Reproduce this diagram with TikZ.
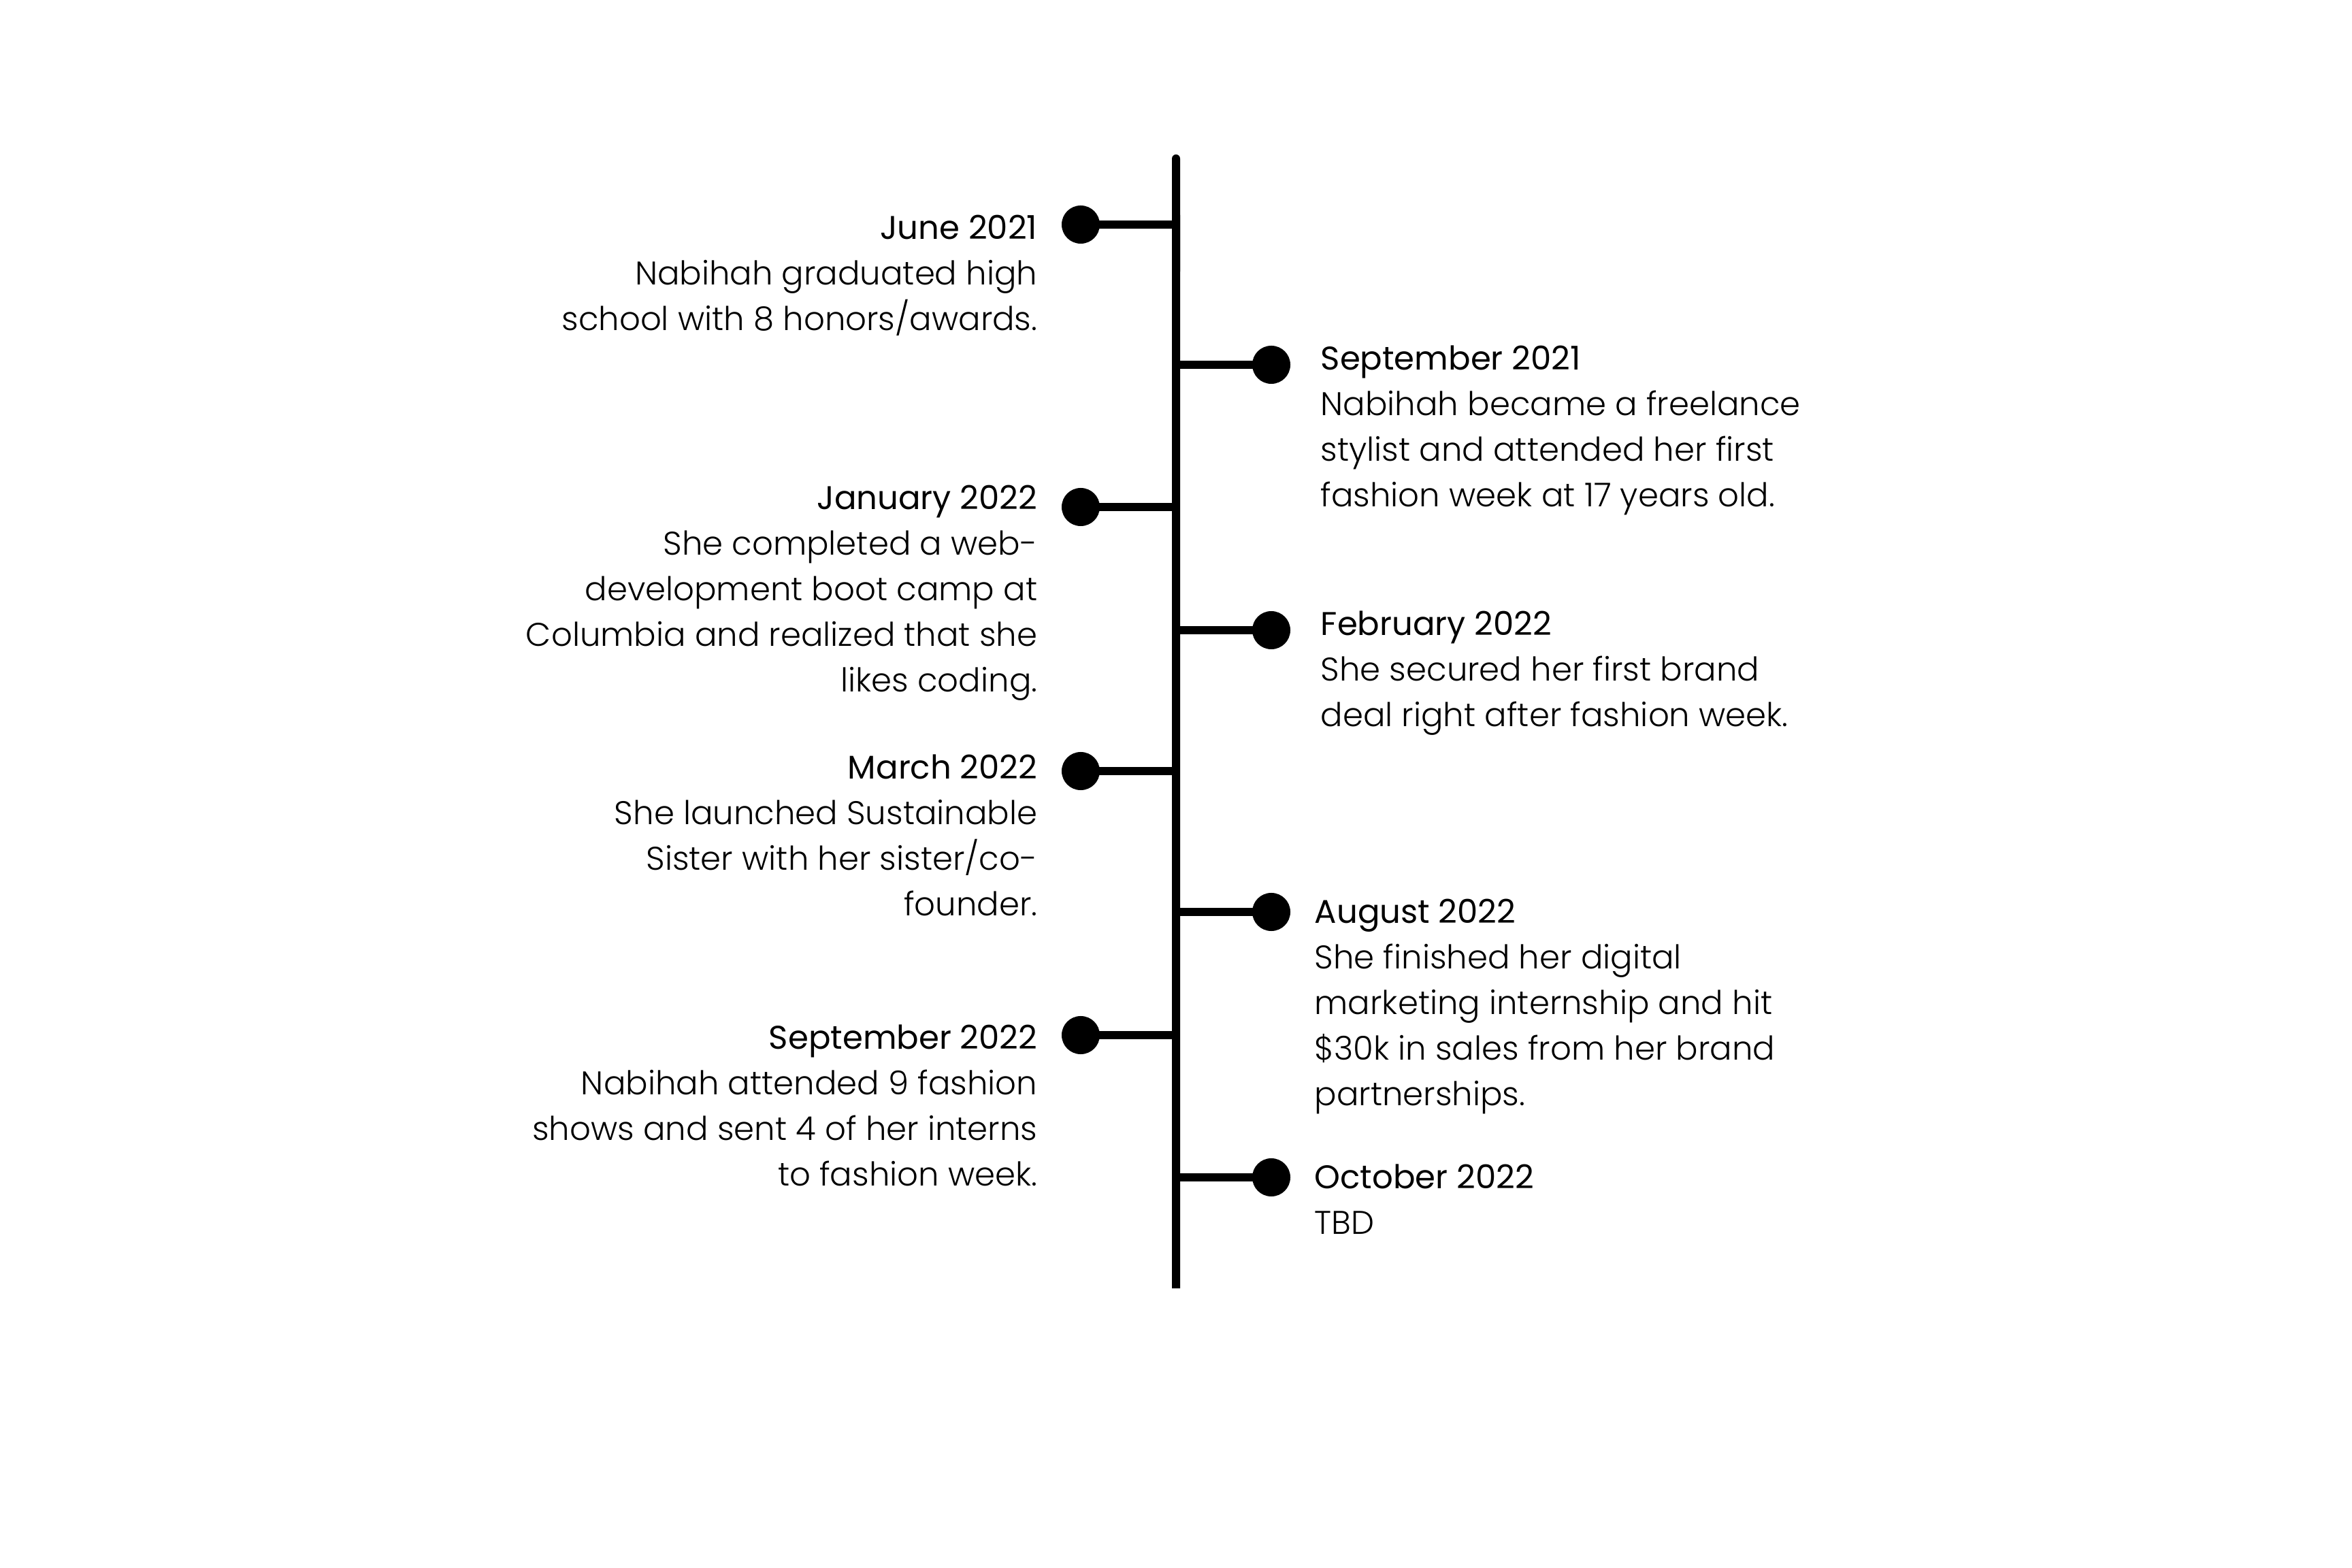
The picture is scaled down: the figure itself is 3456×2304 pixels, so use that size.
\documentclass[tikz,border=0pt]{standalone}
\usepackage{fontspec}
\usetikzlibrary{calc}
\setmainfont{Poppins}[UprightFont={* Light},BoldFont={* Regular}]
\begin{document}
\begin{tikzpicture}[x=0.01cm,y=-0.01cm,
  dot/.style={circle,fill=black,inner sep=0pt,minimum size=0.56cm},
  stub/.style={line width=0.12cm,black},
  spine/.style={line width=0.12cm,black},
  ltxt/.style={anchor=base east,align=right,inner sep=0pt,font=\fontsize{13.7pt}{19pt}\selectfont},
  rtxt/.style={anchor=base west,align=left,inner sep=0pt,font=\fontsize{13.7pt}{19pt}\selectfont}]
\useasboundingbox[fill=white] (0,0) rectangle (3456,2304);
\coordinate (top) at (1728,233);
\coordinate (bot) at (1728,1893);
\draw[spine,line cap=round] (top) -- ($(top)!0.1!(bot)$);
\draw[spine] ($(top)!0.05!(bot)$) -- (bot);
% left
\node[dot] (l1) at (1588,330) {};
\node[dot] (l2) at (1588,745) {};
\node[dot] (l3) at (1588,1133) {};
\node[dot] (l4) at (1588,1521) {};
% right
\node[dot] (r1) at (1868,536) {};
\node[dot] (r2) at (1868,926) {};
\node[dot] (r3) at (1868,1340) {};
\node[dot] (r4) at (1868,1730) {};
\foreach \n in {l1,l2,l3,l4,r1,r2,r3,r4} \draw[stub] (\n.center) -- (\n.center -| top);
% base anchor = baseline of last line; first baseline + (n-1)*19pt
\node[ltxt] (t1) at (1525,{352+2*66.77}) {\textbf{June 2021}\\Nabihah graduated high\\school with 8 honors/awards.};
\node[ltxt] (t2) at (1525,{749+4*66.77}) {\textbf{January 2022}\\She completed a web-\\development boot camp at\\Columbia and realized that she\\likes coding.};
\node[ltxt] (t3) at (1525,{1145+3*66.77}) {\textbf{March 2022}\\She launched Sustainable\\Sister with her sister/co-\\founder.};
\node[ltxt] (t4) at (1525,{1542+3*66.77}) {\textbf{September 2022}\\Nabihah attended 9 fashion\\shows and sent 4 of her interns\\to fashion week.};
\node[rtxt] (s1) at (1940,{544+3*66.77}) {\textbf{September 2021}\\Nabihah became a freelance\\stylist and attended her first\\fashion week at 17 years old.};
\node[rtxt] (s2) at (1940,{934+2*66.77}) {\textbf{February 2022}\\She secured her first brand\\deal right after fashion week.};
\node[rtxt] (s3) at (1931,{1357+4*66.77}) {\textbf{August 2022}\\She finished her digital\\marketing internship and hit\\\$30k in sales from her brand\\partnerships.};
\node[rtxt] (s4) at (1931,{1747+66.77}) {\textbf{October 2022}\\TBD};
\end{tikzpicture}
\end{document}
